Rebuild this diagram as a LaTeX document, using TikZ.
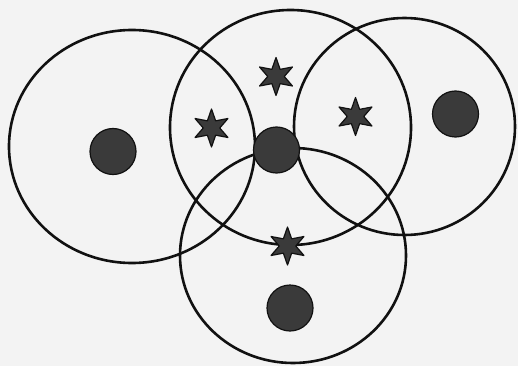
\documentclass[tikz,border=0pt]{standalone}
\usetikzlibrary{shapes.geometric}
\definecolor{paper}{HTML}{F3F3F3}
\definecolor{ink}{HTML}{111111}
\definecolor{blot}{HTML}{3A3A3A}
\tikzset{
  ring/.style={draw=ink, line width=2.6pt},
  dotmark/.style={circle, draw=ink, fill=blot, line width=1.2pt, inner sep=0pt, minimum size=46pt},
  starmark/.style={star, star points=6, star point ratio=2.3, draw=ink, fill=blot, line width=1.2pt, inner sep=0pt, minimum size=38pt, line join=round}
}
\begin{document}
\begin{tikzpicture}[x=1pt,y=-1pt]
\fill[paper] (0,0) rectangle (518,366);
\useasboundingbox (0,0) rectangle (518,366);
% rings
\draw[ring] (132,146.5) ellipse [x radius=123, y radius=116.5];
\draw[ring] (290.5,127.5) ellipse [x radius=120.5, y radius=117.5];
\draw[ring] (404.5,126.5) ellipse [x radius=110.5, y radius=108.5];
\draw[ring] (293,255.5) ellipse [x radius=113, y radius=107.5];
% dots
\node[dotmark] (d1) at (113,151.5) {};
\node[dotmark] (d2) at (276.5,150) {};
\node[dotmark] (d3) at (455.5,114) {};
\node[dotmark] (d4) at (290,308) {};
% stars
\node[starmark] (s1) at (276,76.5) {};
\node[starmark] (s2) at (211.5,128) {};
\node[starmark] (s3) at (355.5,116.5) {};
\node[starmark] (s4) at (287.5,246) {};
\end{tikzpicture}
\end{document}
